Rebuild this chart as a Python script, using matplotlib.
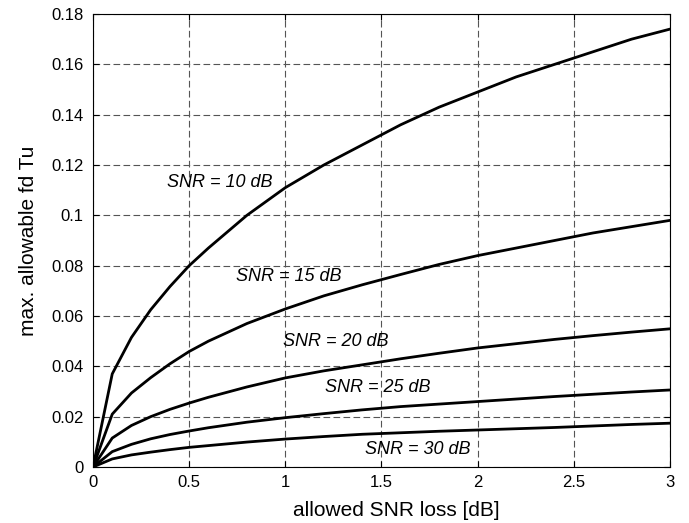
import matplotlib
matplotlib.use("Agg")
import matplotlib.pyplot as plt

plt.rcParams['font.family'] = ['Liberation Sans', 'DejaVu Sans']

loss = [0, 0.1, 0.2, 0.3, 0.4, 0.5, 0.6, 0.8, 1.0, 1.2, 1.4, 1.6, 1.8, 2.0, 2.2, 2.4, 2.6, 2.8, 3.0]
snr10 = [0, 0.037, 0.0515, 0.0625, 0.0717, 0.080, 0.087, 0.100, 0.111, 0.120, 0.128, 0.136, 0.143, 0.149, 0.155, 0.160, 0.165, 0.170, 0.174]
snr15 = [0, 0.021, 0.0294, 0.0355, 0.041, 0.0459, 0.050, 0.057, 0.0628, 0.068, 0.0724, 0.0765, 0.0805, 0.084, 0.087, 0.090, 0.093, 0.0955, 0.098]
snr20 = [0, 0.0115, 0.0165, 0.0200, 0.0229, 0.0254, 0.0277, 0.0318, 0.0354, 0.0382, 0.0406, 0.0430, 0.0452, 0.0473, 0.0490, 0.0507, 0.0522, 0.0536, 0.0549]
snr25 = [0, 0.0061, 0.0090, 0.0112, 0.0129, 0.0143, 0.0156, 0.0178, 0.0196, 0.0212, 0.0227, 0.0240, 0.0250, 0.0260, 0.0270, 0.0280, 0.0289, 0.0298, 0.0306]
snr30 = [0, 0.0032, 0.0048, 0.0059, 0.0069, 0.0078, 0.0085, 0.0099, 0.0111, 0.0121, 0.0130, 0.0136, 0.0142, 0.0147, 0.0152, 0.0157, 0.0163, 0.0169, 0.0174]
series = [snr10, snr15, snr20, snr25, snr30]
labels = ["SNR = 10 dB", "SNR = 15 dB", "SNR = 20 dB", "SNR = 25 dB", "SNR = 30 dB"]
label_pos = [(0.66, 0.113), (1.02, 0.0755), (1.26, 0.0497), (1.48, 0.0314), (1.69, 0.0068)]
xticks = [0, 0.5, 1, 1.5, 2, 2.5, 3]
xticklabels = ["0", "0.5", "1", "1.5", "2", "2.5", "3"]
yticks = [0, 0.02, 0.04, 0.06, 0.08, 0.1, 0.12, 0.14, 0.16, 0.18]
yticklabels = ["0", "0.02", "0.04", "0.06", "0.08", "0.1", "0.12", "0.14", "0.16", "0.18"]

fig = plt.figure(figsize=(6.89, 5.23), dpi=100)
ax = fig.add_axes([0.135, 0.1071, 0.8374, 0.8661])
for s in series:
    ax.plot(loss, s, color='black', linewidth=2.0)
for lab, (x, y) in zip(labels, label_pos):
    ax.text(x, y, lab, fontsize=13, style='italic', ha='center', va='center')

ax.set_xlim(0, 3)
ax.set_ylim(0, 0.18)
ax.set_xticks(xticks)
ax.set_xticklabels(xticklabels)
ax.set_yticks(yticks)
ax.set_yticklabels(yticklabels)
ax.grid(True, linestyle=(0, (6, 3)), color='#555555', linewidth=0.8)
ax.tick_params(direction='in', top=True, right=True, labelsize=12, length=4)
ax.tick_params(axis='y', pad=7)
ax.tick_params(axis='x', pad=6)
ax.set_xlabel("allowed SNR loss [dB]", fontsize=15)
ax.xaxis.set_label_coords(0.525, -0.075)
ax.set_ylabel("max. allowable fd Tu", fontsize=15, labelpad=9)
for sp in ax.spines.values():
    sp.set_linewidth(0.8)

fig.savefig("out.png", dpi=100)
